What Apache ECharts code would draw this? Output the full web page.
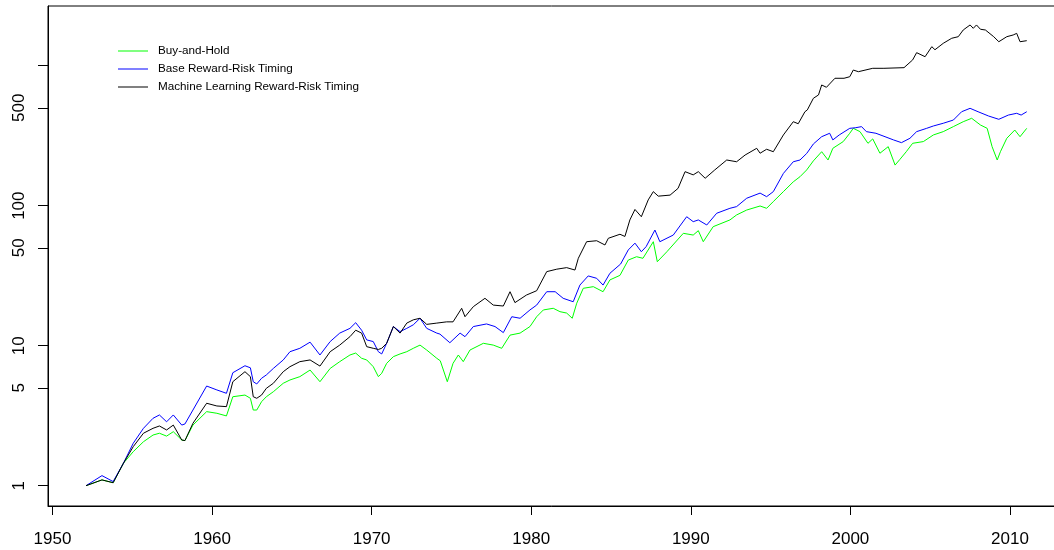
<!DOCTYPE html>
<html>
<head>
<meta charset="utf-8">
<title>Reward-Risk Timing</title>
<script src="https://cdn.jsdelivr.net/npm/echarts@6/dist/echarts.min.js"></script>
<style>
  html, body { margin: 0; padding: 0; background: #fff; }
  #chart { width: 1054px; height: 550px; }
</style>
</head>
<body>
<div id="chart"></div>
<script>
// series names as shown in the legend
const seriesNames = ['Buy-and-Hold', 'Base Reward-Risk Timing', 'Machine Learning Reward-Risk Timing']
const seriesColors = ['#00ff00', '#0000ff', '#000000']

// axis ticks
const xTicks = [1950, 1960, 1970, 1980, 1990, 2000, 2010]
const yTicks = [1, 5, 10, 50, 100, 500, 1000]
const yLabels = [1, 5, 10, 50, 100, 500]

// [year, cumulative value]
const buyHold = [
  [1952.1, 1.0], [1953.1, 1.10], [1953.8, 1.05], [1954.45, 1.45], [1955.06, 1.75], [1955.7, 2.06],
  [1956.3, 2.30], [1956.7, 2.37], [1957.15, 2.26], [1957.57, 2.43], [1958.1, 2.12], [1958.3, 2.10],
  [1958.8, 2.71], [1959.66, 3.38], [1960.3, 3.29], [1960.9, 3.15], [1961.3, 4.32], [1962.06, 4.44],
  [1962.4, 4.21], [1962.58, 3.47], [1962.8, 3.47], [1963.1, 3.98], [1963.4, 4.32], [1963.84, 4.69],
  [1964.46, 5.39], [1964.88, 5.69], [1965.5, 6.01], [1966.14, 6.70], [1966.76, 5.53], [1967.4, 6.88],
  [1968.0, 7.69], [1968.64, 8.58], [1969.0, 8.86], [1969.37, 8.13], [1969.69, 7.91], [1970.1, 7.08],
  [1970.42, 6.01], [1970.63, 6.35], [1970.94, 7.48], [1971.36, 8.35], [1971.78, 8.73], [1972.2, 9.06],
  [1972.61, 9.58], [1973.03, 10.1], [1973.45, 9.31], [1974.08, 8.13], [1974.3, 7.8], [1974.74, 5.53],
  [1975.1, 7.48], [1975.43, 8.58], [1975.74, 7.69], [1976.16, 9.31], [1977.0, 10.4], [1977.62, 10.1],
  [1978.15, 9.58], [1978.67, 11.9], [1979.3, 12.3], [1979.92, 13.7], [1980.34, 16.1], [1980.76, 18.0],
  [1981.38, 18.5], [1981.8, 17.5], [1982.22, 17.1], [1982.57, 15.7], [1982.85, 20.1], [1983.26, 25.7],
  [1983.89, 26.4], [1984.5, 24.3], [1984.93, 29.5], [1985.56, 31.8], [1986.08, 40.9], [1986.6, 43.2],
  [1987.0, 42.1], [1987.65, 55.3], [1987.9, 39.8], [1988.5, 46.9], [1989.53, 63.5], [1990.15, 61.7],
  [1990.47, 66.3], [1990.78, 55.3], [1991.4, 70.8], [1992.45, 79.1], [1992.87, 85.9], [1993.5, 93.1],
  [1994.34, 99.5], [1994.75, 95.8], [1995.17, 107], [1995.8, 126], [1996.42, 148], [1996.84, 161],
  [1997.26, 180], [1997.68, 209], [1998.2, 243], [1998.6, 212], [1998.9, 257], [1999.55, 287],
  [1999.96, 329], [2000.18, 357], [2000.6, 338], [2001.1, 279], [2001.4, 300], [2001.85, 237],
  [2002.37, 264], [2002.8, 195], [2003.1, 214], [2003.5, 243], [2003.9, 279], [2004.57, 287],
  [2005.2, 320], [2005.82, 338], [2006.45, 367], [2007.07, 398], [2007.6, 421], [2008.15, 377],
  [2008.57, 357], [2008.88, 264], [2009.2, 212], [2009.4, 243], [2009.8, 303], [2010.3, 347],
  [2010.63, 311], [2011.05, 357]
]

const baseTiming = [
  [1952.1, 1.0], [1953.1, 1.18], [1953.8, 1.07], [1954.45, 1.45], [1955.06, 2.01], [1955.7, 2.57],
  [1956.3, 3.03], [1956.7, 3.20], [1957.15, 2.86], [1957.57, 3.20], [1958.1, 2.71], [1958.3, 2.76],
  [1958.8, 3.47], [1959.66, 5.15], [1960.3, 4.83], [1960.9, 4.57], [1961.3, 6.41], [1962.06, 7.19],
  [1962.4, 6.95], [1962.58, 5.53], [1962.8, 5.33], [1963.1, 5.85], [1963.4, 6.18], [1963.84, 6.88],
  [1964.46, 7.91], [1964.88, 9.06], [1965.5, 9.58], [1966.14, 10.6], [1966.76, 8.58], [1967.4, 10.7],
  [1968.0, 12.3], [1968.64, 13.3], [1969.0, 14.6], [1969.37, 12.9], [1969.69, 11.0], [1970.1, 10.7],
  [1970.42, 9.06], [1970.63, 8.73], [1970.94, 10.4], [1971.36, 13.7], [1971.78, 12.6], [1972.2, 13.3],
  [1972.61, 14.1], [1973.03, 15.7], [1973.45, 13.3], [1974.08, 12.3], [1974.28, 12.1], [1974.9, 10.5],
  [1975.54, 12.3], [1975.85, 11.6], [1976.37, 13.7], [1977.2, 14.3], [1977.73, 13.7], [1978.25, 12.4],
  [1978.78, 16.1], [1979.3, 15.7], [1979.92, 18.0], [1980.34, 19.5], [1980.97, 24.3], [1981.5, 24.3],
  [1982.0, 21.8], [1982.63, 20.6], [1983.05, 27.1], [1983.57, 31.5], [1984.1, 30.3], [1984.5, 27.1],
  [1984.93, 32.9], [1985.6, 38.3], [1986.08, 48.3], [1986.5, 54.0], [1986.9, 46.9], [1987.2, 51.0],
  [1987.75, 67.0], [1988.06, 55.3], [1988.9, 61.7], [1989.74, 83.4], [1990.15, 76.9], [1990.47, 79.1],
  [1991.0, 72.8], [1991.62, 88.3], [1992.45, 95.8], [1992.87, 98.5], [1993.5, 113], [1994.34, 123],
  [1994.75, 116], [1995.17, 126], [1995.8, 170], [1996.42, 206], [1996.84, 212], [1997.26, 236],
  [1997.68, 276], [1998.2, 311], [1998.7, 329], [1998.9, 295], [1999.3, 320], [1999.96, 357],
  [2000.3, 360], [2000.7, 367], [2001.0, 338], [2001.6, 329], [2002.17, 311], [2002.7, 295],
  [2003.2, 282], [2003.73, 303], [2004.15, 338], [2004.78, 357], [2005.2, 371], [2005.82, 388],
  [2006.45, 409], [2006.97, 469], [2007.5, 496], [2008.0, 469], [2008.66, 437], [2009.3, 414],
  [2009.9, 444], [2010.42, 457], [2010.7, 444], [2011.05, 469]
]

const mlTiming = [
  [1952.1, 1.0], [1953.1, 1.10], [1953.8, 1.05], [1954.45, 1.45], [1955.06, 1.90], [1955.7, 2.37],
  [1956.3, 2.57], [1956.7, 2.67], [1957.15, 2.50], [1957.57, 2.71], [1958.1, 2.12], [1958.3, 2.10],
  [1958.8, 2.79], [1959.66, 3.88], [1960.3, 3.71], [1960.9, 3.67], [1961.3, 5.53], [1962.06, 6.52],
  [1962.4, 6.01], [1962.58, 4.32], [1962.8, 4.21], [1963.1, 4.44], [1963.4, 4.96], [1963.84, 5.39],
  [1964.46, 6.52], [1964.88, 7.08], [1965.5, 7.69], [1966.14, 7.91], [1966.76, 7.15], [1967.4, 9.06],
  [1968.0, 10.1], [1968.64, 11.6], [1969.0, 12.9], [1969.37, 12.3], [1969.69, 9.84], [1970.1, 9.58],
  [1970.42, 9.4], [1970.63, 9.58], [1970.94, 10.4], [1971.36, 13.7], [1971.78, 12.3], [1972.2, 14.5],
  [1972.61, 15.3], [1973.03, 15.7], [1973.45, 14.2], [1974.08, 14.5], [1974.7, 14.8], [1975.1, 14.8],
  [1975.64, 18.5], [1975.85, 16.1], [1976.37, 19.0], [1977.1, 21.8], [1977.62, 19.5], [1978.25, 19.2],
  [1978.67, 24.3], [1978.98, 20.3], [1979.7, 23.0], [1980.34, 24.7], [1980.97, 33.8], [1981.6, 35.2],
  [1982.22, 36.1], [1982.74, 34.7], [1982.95, 42.1], [1983.47, 55.3], [1984.1, 56.2], [1984.62, 52.4],
  [1984.83, 58.5], [1985.56, 62.5], [1985.87, 60.3], [1986.18, 79.1], [1986.5, 94.0], [1986.9, 83.4],
  [1987.33, 110], [1987.65, 126], [1987.96, 117], [1988.7, 119], [1989.2, 133], [1989.64, 175],
  [1990.15, 166], [1990.47, 175], [1990.9, 157], [1991.5, 180], [1992.25, 212], [1992.87, 206],
  [1993.4, 230], [1994.13, 257], [1994.34, 237], [1994.75, 253], [1995.17, 243], [1995.8, 320],
  [1996.42, 398], [1996.73, 385], [1997.15, 469], [1997.3, 483], [1997.68, 585], [1997.78, 601],
  [1998.0, 618], [1998.2, 728], [1998.5, 701], [1999.03, 813], [1999.6, 813], [1999.96, 834],
  [2000.18, 931], [2000.5, 906], [2001.4, 958], [2002.1, 958], [2003.36, 968], [2003.9, 1099],
  [2004.15, 1239], [2004.68, 1159], [2005.1, 1367], [2005.3, 1300], [2005.82, 1445], [2006.35, 1570],
  [2006.76, 1611], [2007.07, 1799], [2007.5, 1954], [2007.7, 1849], [2007.9, 1954], [2008.15, 1820],
  [2008.46, 1799], [2008.98, 1611], [2009.3, 1483], [2009.8, 1611], [2010.2, 1657], [2010.42, 1702],
  [2010.63, 1483], [2011.05, 1509]
]

const seriesData = [buyHold, baseTiming, mlTiming]
const font = '"Liberation Sans", Arial, sans-serif'

const chart = echarts.init(document.getElementById('chart'))

chart.setOption({
  animation: false,
  backgroundColor: '#fff',
  grid: {
    left: 48,
    top: 6,
    width: 1016,
    height: 500,
    show: true,
    borderColor: '#000',
    borderWidth: 1,
    containLabel: false,
    outerBoundsMode: 'none'
  },
  legend: {
    orient: 'vertical',
    left: 113,
    top: 39,
    icon: 'rect',
    itemWidth: 30,
    itemHeight: 1,
    itemGap: 4,
    data: seriesNames,
    textStyle: {
      fontFamily: font,
      fontSize: 11.7,
      lineHeight: 14,
      color: '#000',
      padding: [0, 0, 0, 5]
    }
  },
  xAxis: {
    type: 'value',
    min: 1949.718,
    max: 2013.385,
    axisLine: { show: true, lineStyle: { color: '#000', width: 1 } },
    axisTick: { show: true, length: 9, lineStyle: { color: '#000' }, customValues: xTicks },
    axisLabel: {
      customValues: xTicks,
      formatter: v => String(v),
      margin: 25,
      fontFamily: font,
      fontSize: 17,
      color: '#000'
    },
    splitLine: { show: false }
  },
  yAxis: {
    type: 'log',
    logBase: 10,
    min: 0.716,
    max: 2669,
    axisLine: { show: true, lineStyle: { color: '#000', width: 1 } },
    axisTick: { show: true, length: 10, lineStyle: { color: '#000' }, customValues: yTicks },
    axisLabel: {
      customValues: yLabels,
      formatter: v => String(v),
      rotate: 90,
      margin: 20,
      fontFamily: font,
      fontSize: 17,
      color: '#000'
    },
    minorTick: { show: false },
    splitLine: { show: false }
  },
  series: seriesData.map((d, i) => ({
    name: seriesNames[i],
    type: 'line',
    data: d,
    symbol: 'none',
    z: i + 2,
    lineStyle: { color: seriesColors[i], width: 1 },
    itemStyle: { color: seriesColors[i] }
  }))
})
</script>
</body>
</html>
